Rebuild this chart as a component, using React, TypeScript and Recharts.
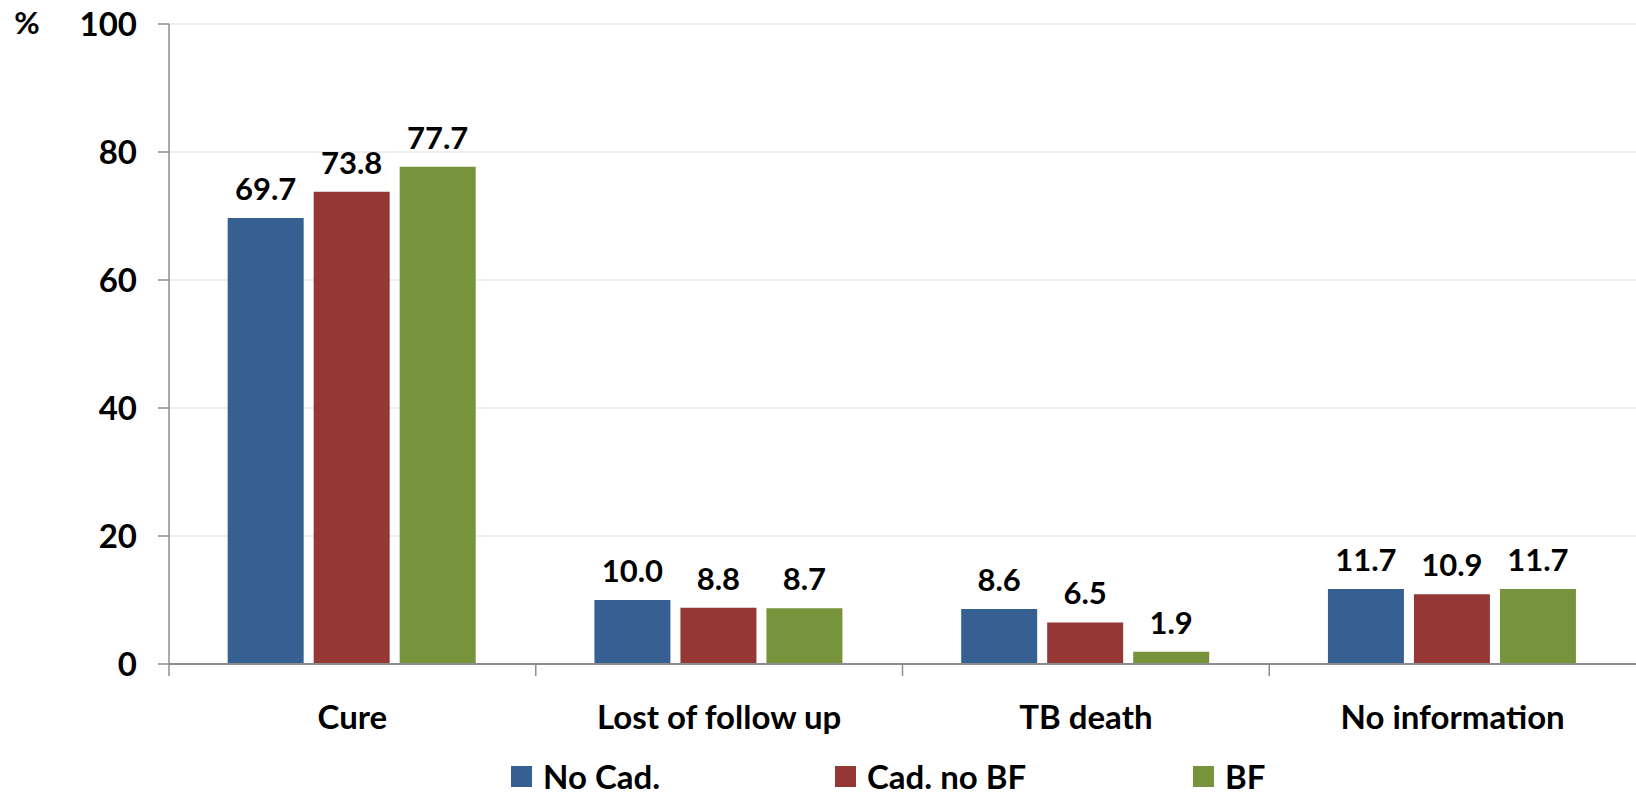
import React from "react";
import { BarChart, Bar, XAxis, YAxis, CartesianGrid, LabelList } from "recharts";

const categories = ["Cure", "Lost of follow up", "TB death", "No information"];
const noCad = [69.7, 10.0, 8.6, 11.7];
const cadNoBf = [73.8, 8.8, 6.5, 10.9];
const bf = [77.7, 8.7, 1.9, 11.7];
const seriesNames = ["No Cad.", "Cad. no BF", "BF"];
const seriesKeys = ["noCad", "cadNoBf", "bf"];
const seriesColors = ["#376092", "#953735", "#77933C"];
const yTicks = [0, 20, 40, 60, 80, 100];

const W = 1636;
const H = 793;
const AXIS_W = 169;
const CAT_W = (W - AXIS_W) / categories.length;
const FONT = "Lato, 'Open Sans', sans-serif";
const AXIS_COLOR = "#8c8c8c";

const data = categories.map((c, i) => ({
  name: c,
  noCad: noCad[i],
  cadNoBf: cadNoBf[i],
  bf: bf[i],
}));

function CategoryTick(props: any) {
  const { x, y, payload } = props;
  const left = x - CAT_W / 2;
  return (
    <g>
      <line x1={left} x2={left} y1={y} y2={y + 12} stroke={AXIS_COLOR} strokeWidth={1.5} />
      <text x={x} y={y + 65} textAnchor="middle" fontFamily={FONT} fontWeight={700} fontSize={33} fill="#000">
        {payload.value}
      </text>
    </g>
  );
}

export default function App() {
  return (
    <div style={{ position: "absolute", left: 0, top: 0, width: W, height: H, background: "#fff" }}>
      <BarChart
        width={W}
        height={H}
        data={data}
        margin={{ top: 24, right: 0, left: 0, bottom: 59 }}
        barCategoryGap="16%"
        barGap={10}
      >
        <CartesianGrid vertical={false} stroke="#e8e8e8" strokeWidth={1.5} />
        <XAxis
          dataKey="name"
          height={70}
          tickLine={false}
          tickSize={0}
          tickMargin={0}
          interval={0}
          axisLine={{ stroke: AXIS_COLOR, strokeWidth: 2 }}
          tick={<CategoryTick />}
        />
        <YAxis
          width={AXIS_W}
          domain={[0, 100]}
          ticks={yTicks}
          interval={0}
          tickSize={11}
          tickMargin={21}
          axisLine={{ stroke: AXIS_COLOR, strokeWidth: 1.5 }}
          tickLine={{ stroke: AXIS_COLOR, strokeWidth: 1.5 }}
          tick={{ fill: "#000", fontFamily: FONT, fontWeight: 700, fontSize: 33 }}
          label={{
            value: "%",
            content: ({ viewBox }: any) => (
              <text x={viewBox.x + 27} y={viewBox.y + 10} textAnchor="middle" fontFamily={FONT} fontWeight={700} fontSize={31} fill="#000">
                %
              </text>
            ),
          }}
        />
        {seriesKeys.map((k, i) => (
          <Bar key={k} dataKey={k} name={seriesNames[i]} fill={seriesColors[i]} isAnimationActive={false}>
            <LabelList
              dataKey={k}
              position="top"
              offset={18}
              formatter={(v: any) => Number(v).toFixed(1)}
              style={{ fill: "#000", fontFamily: FONT, fontWeight: 700, fontSize: 31 }}
            />
          </Bar>
        ))}
      </BarChart>
      <div
        style={{
          position: "absolute",
          left: 511,
          top: 756,
          display: "flex",
          alignItems: "center",
          fontFamily: FONT,
          fontWeight: 700,
          fontSize: 33,
          color: "#000",
        }}
      >
        {seriesNames.map((n, i) => (
          <div key={n} style={{ display: "flex", alignItems: "center", width: i < 2 ? [324, 358][i] : "auto" }}>
            <span style={{ display: "inline-block", width: 21, height: 21, background: seriesColors[i], marginRight: 11 }} />
            <span>{n}</span>
          </div>
        ))}
      </div>
    </div>
  );
}
